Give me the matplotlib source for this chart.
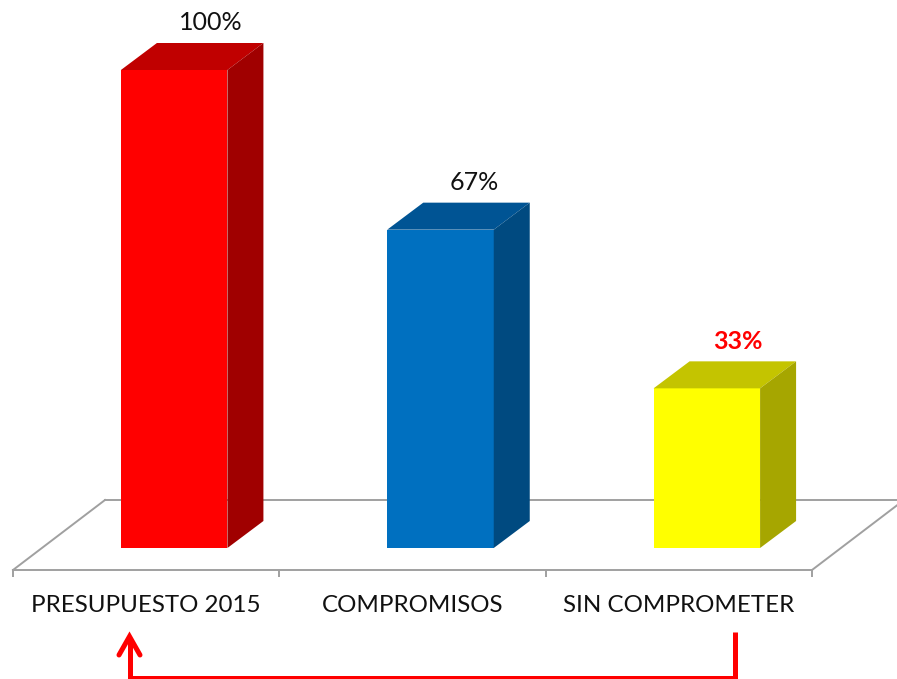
"""
3D looking column chart of the 2015 budget
"""

import matplotlib
matplotlib.use("Agg")
import matplotlib.pyplot as plt

categories = ["PRESUPUESTO 2015", "COMPROMISOS", "SIN COMPROMETER"]
values = [100, 66.6, 33.4]
value_labels = ["100%", "67%", "33%"]
front_colors = ["#FF0000", "#0070C0", "#FFFF00"]
top_colors = ["#C00000", "#005494", "#C4C400"]
side_colors = ["#A00000", "#004A80", "#A6A600"]
label_colors = ["#111111", "#111111", "#FF0000"]
label_weights = ["normal", "normal", "bold"]

FIG_W, FIG_H = 897, 679
GRID = "#A0A0A0"
FONT = "Lato"

# pixel scale of the plot (one category = 266.5 px, one percent = 4.78 px)
left_px, right_px = 13, 812
top_px, bottom_px = 43, 570
px_x = (right_px - left_px) / 3
px_y = 4.78

bar_shift = 28 / px_x
bar_width = 106.5 / px_x
depth_x = 36 / px_x
depth_y = 27 / px_y
floor_y = -(bottom_px - 548) / px_y
back_y = floor_y + 70 / px_y
floor_dx = 92 / px_x

fig = plt.figure(figsize=(FIG_W / 100, FIG_H / 100), dpi=100)
ax = fig.add_axes([left_px / FIG_W, 1 - bottom_px / FIG_H,
                   (right_px - left_px) / FIG_W, (bottom_px - top_px) / FIG_H])
ax.set_xlim(-0.5, 2.5)
ax.set_ylim(floor_y, floor_y + (bottom_px - top_px) / px_y)
ax.patch.set_visible(False)
for name in ["top", "left", "right"]:
    ax.spines[name].set_visible(False)
ax.spines["bottom"].set_color(GRID)
ax.spines["bottom"].set_linewidth(1.4)

# floor of the chart
ax.plot([-0.5, -0.5 + floor_dx], [floor_y, back_y], color=GRID, lw=1.4,
        clip_on=False, zorder=1)
ax.plot([-0.5 + floor_dx, 2.5 + floor_dx], [back_y, back_y], color=GRID, lw=1.4,
        clip_on=False, zorder=1)
ax.plot([2.5, 2.5 + floor_dx], [floor_y, back_y], color=GRID, lw=1.4,
        clip_on=False, zorder=1)

for i, value in enumerate(values):
    x0 = i + bar_shift - bar_width / 2
    x1 = x0 + bar_width
    ax.bar(x0, value, width=bar_width, align="edge", color=front_colors[i],
           zorder=3, clip_on=False)
    ax.fill([x0, x1, x1 + depth_x, x0 + depth_x],
            [value, value, value + depth_y, value + depth_y],
            color=top_colors[i], lw=0, zorder=3, clip_on=False)
    ax.fill([x1, x1 + depth_x, x1 + depth_x, x1],
            [0, depth_y, value + depth_y, value],
            color=side_colors[i], lw=0, zorder=3, clip_on=False)
    ax.text(i + bar_shift + (37 - 3 * i) / px_x, value + 47 / px_y, value_labels[i],
            ha="center", va="center", fontsize=18, family=FONT,
            color=label_colors[i], fontweight=label_weights[i], clip_on=False)

ax.set_yticks([])
ax.set_xticks(range(len(categories)))
ax.set_xticklabels(categories, fontsize=17.4, family=FONT, color="#111111")
ax.tick_params(axis="x", which="major", length=0, pad=18)
ax.set_xticks([-0.5, 0.5, 1.5, 2.5], minor=True)
ax.tick_params(axis="x", which="minor", length=5, width=1.4, color=GRID)

# red arrow from the last category back to the first one
overlay = fig.add_axes([0, 0, 1, 1])
overlay.set_xlim(0, FIG_W)
overlay.set_ylim(FIG_H, 0)
overlay.axis("off")
overlay.plot([735, 735, 129.5, 129.5], [632, 677.5, 677.5, 640], color="#FF0000", lw=3.6,
             solid_joinstyle="miter", solid_capstyle="butt")
overlay.plot([119, 129.5, 140], [655, 636.5, 655], color="#FF0000", lw=3.6,
             solid_joinstyle="miter", solid_capstyle="round")

fig.savefig("out.png", dpi=100)
